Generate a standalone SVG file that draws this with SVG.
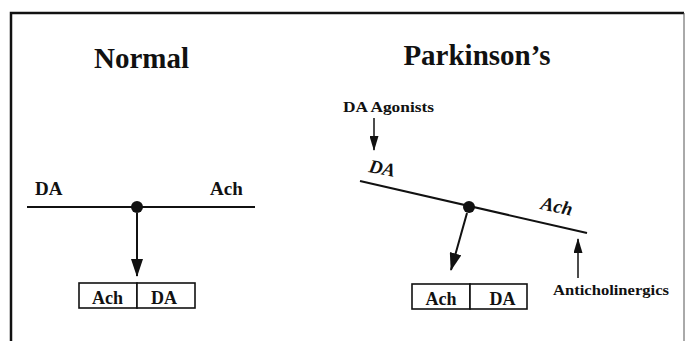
<svg xmlns="http://www.w3.org/2000/svg" width="685" height="341" viewBox="0 0 685 341">
<defs>
<style>
text{font-family:"Liberation Serif","Times New Roman",serif;font-weight:bold;fill:#111}
.title{font-size:29px;text-anchor:middle}
.lbl{font-size:19px}
.ital{font-size:19px;font-style:italic}
.box{font-size:18px;text-anchor:middle}
.small{font-size:15px}
.beam{stroke:#111;stroke-width:2;fill:none}
.arr{stroke:#111;stroke-width:2;fill:none;marker-end:url(#big)}
.arrs{stroke:#111;stroke-width:1.5;fill:none;marker-end:url(#small)}
.cell{fill:#fff;stroke:#111;stroke-width:1.6}
</style>
<marker id="big" viewBox="0 0 18 12" refX="17" refY="6" markerWidth="18" markerHeight="12" markerUnits="userSpaceOnUse" orient="auto"><path d="M0,0 L18,6 L0,12 z" fill="#111"/></marker>
<marker id="small" viewBox="0 0 15 9" refX="14" refY="4.5" markerWidth="15" markerHeight="9" markerUnits="userSpaceOnUse" orient="auto"><path d="M0,0 L15,4.5 L0,9 z" fill="#111"/></marker>
</defs>
<g id="frame">
<path d="M11,341 L11,13 L684,13" stroke="#111" stroke-width="2.5" fill="none"/>
<path d="M684,13 L684,341" stroke="#555" stroke-width="1" fill="none"/>
</g>
<g id="normal">
<text class="title" x="141.5" y="68">Normal</text>
<text class="lbl" x="35" y="195">DA</text>
<text class="lbl" x="210" y="195">Ach</text>
<line class="beam" x1="27" y1="207" x2="255" y2="207"/>
<circle cx="137" cy="207" r="6" fill="#111"/>
</g>
<g id="normal-box">
<rect class="cell" x="79" y="283" width="58" height="25"/>
<rect class="cell" x="137" y="283" width="58" height="25"/>
<text class="box" x="107.5" y="304">Ach</text>
<text class="box" x="164" y="304">DA</text>
</g>
<g id="parkinsons">
<text class="title" x="477" y="65">Parkinson’s</text>
<text class="small" x="343" y="112" textLength="91" lengthAdjust="spacingAndGlyphs">DA Agonists</text>
<text class="ital" transform="translate(368,172) rotate(11)">DA</text>
<text class="ital" transform="translate(540,209) rotate(12)">Ach</text>
<line class="beam" x1="360" y1="181" x2="587" y2="233"/>
<circle cx="469" cy="207" r="6" fill="#111"/>
<text class="small" x="553" y="295" textLength="116" lengthAdjust="spacingAndGlyphs">Anticholinergics</text>
</g>
<g id="parkinsons-box">
<rect class="cell" x="412" y="284" width="58" height="25"/>
<rect class="cell" x="470" y="284" width="57" height="25"/>
<text class="box" x="441" y="305">Ach</text>
<text class="box" x="502.5" y="305">DA</text>
</g>
<g id="connectors">
<line class="arr" x1="137" y1="213" x2="137" y2="276"/>
<line class="arr" x1="467" y1="213" x2="451" y2="270"/>
<line class="arrs" x1="374" y1="118" x2="374" y2="150"/>
<line class="arrs" x1="578" y1="278" x2="578" y2="239"/>
</g>
</svg>
